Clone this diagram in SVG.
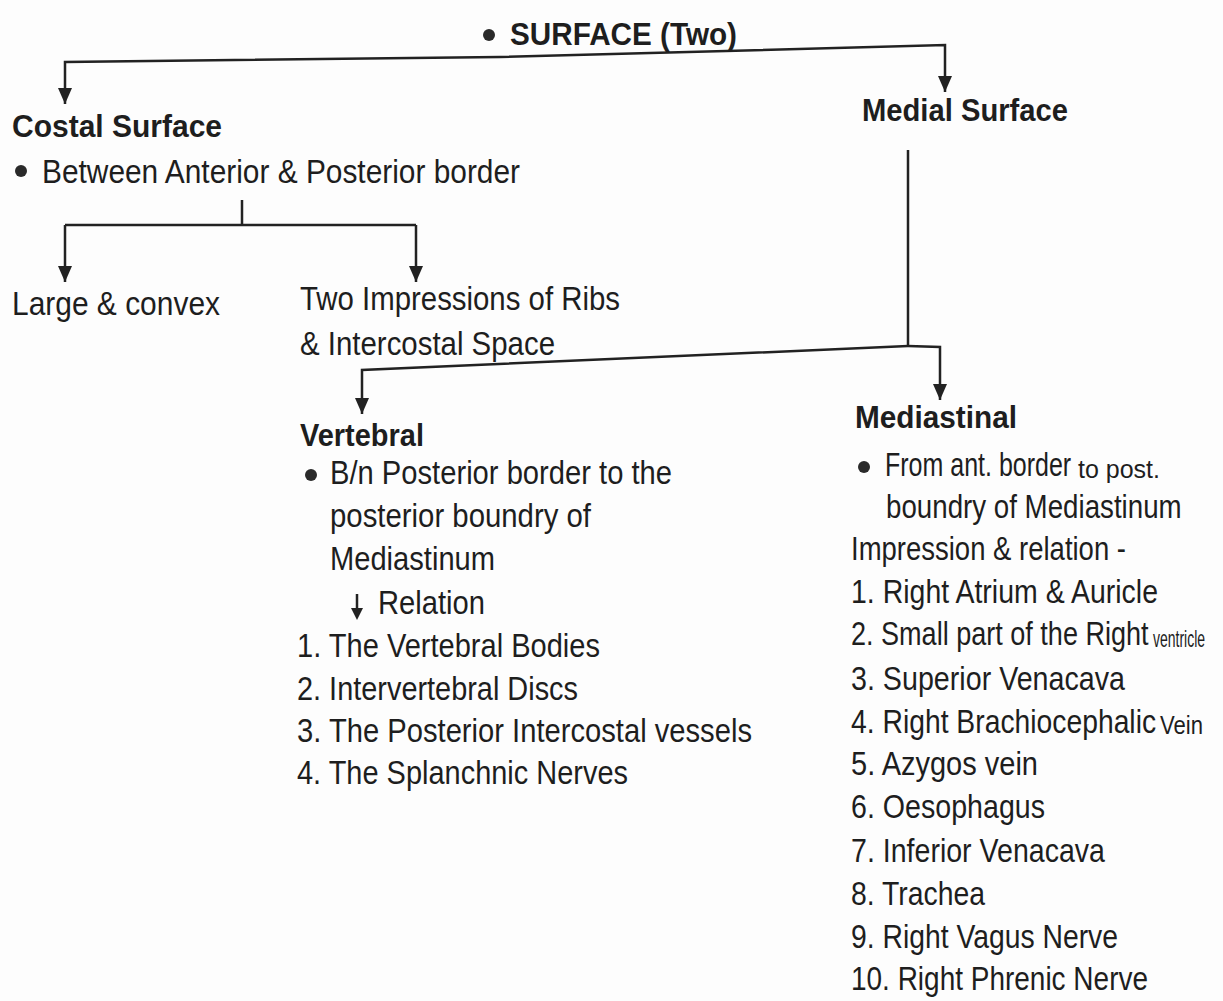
<svg xmlns="http://www.w3.org/2000/svg" width="1223" height="1001" viewBox="0 0 1223 1001">
<defs>
<style>
text{font-family:"Liberation Sans",Arial,sans-serif;font-size:33px;fill:#1e1e1e;}
.b{font-weight:bold;font-size:32px;}
.s{font-size:25px;}
.xs{font-size:23px;}
.ln{fill:none;stroke:#222;stroke-width:2.5;}
.dot{fill:#2a2a2a;}
</style>
<marker id="ah" markerUnits="userSpaceOnUse" markerWidth="14" markerHeight="16" viewBox="0 0 14 16" refX="7" refY="16" orient="0">
<path d="M0,0 L14,0 L7,16 Z" fill="#222"/>
</marker>
</defs>
<rect width="1223" height="1001" fill="#fdfdfd"/>
<g id="connectors">
<path class="ln" d="M500,57 L65,62 L65,104" marker-end="url(#ah)"/>
<path class="ln" d="M500,57 L945,45 L945,92" marker-end="url(#ah)"/>
<path class="ln" d="M242,200 L242,225"/>
<path class="ln" d="M65,225 L416,225"/>
<path class="ln" d="M65,225 L65,282" marker-end="url(#ah)"/>
<path class="ln" d="M416,225 L416,282" marker-end="url(#ah)"/>
<path class="ln" d="M908,150 L908,346"/>
<path class="ln" d="M908,346 L362,370 L362,414" marker-end="url(#ah)"/>
<path class="ln" d="M908,346 L940,347 L940,400" marker-end="url(#ah)"/>
</g>
<g id="surface">
<circle class="dot" cx="489" cy="35" r="6"/>
<text class="b" x="510" y="45" textLength="227" lengthAdjust="spacingAndGlyphs">SURFACE (Two)</text>
</g>
<g id="costal">
<text class="b" x="12" y="137" textLength="210" lengthAdjust="spacingAndGlyphs">Costal Surface</text>
<circle class="dot" cx="21" cy="171" r="6"/>
<text x="42" y="183" textLength="478" lengthAdjust="spacingAndGlyphs">Between Anterior &amp; Posterior border</text>
</g>
<g id="large">
<text x="12" y="315" textLength="208" lengthAdjust="spacingAndGlyphs">Large &amp; convex</text>
</g>
<g id="impressions">
<text x="300" y="310" textLength="320" lengthAdjust="spacingAndGlyphs">Two Impressions of Ribs</text>
<text x="300" y="355" textLength="255" lengthAdjust="spacingAndGlyphs">&amp; Intercostal Space</text>
</g>
<g id="medial">
<text class="b" x="862" y="121" textLength="206" lengthAdjust="spacingAndGlyphs">Medial Surface</text>
</g>
<g id="vertebral">
<text class="b" x="300" y="446" textLength="124" lengthAdjust="spacingAndGlyphs">Vertebral</text>
<circle class="dot" cx="311" cy="475" r="6"/>
<text x="330" y="484" textLength="342" lengthAdjust="spacingAndGlyphs">B/n Posterior border to the</text>
<text x="330" y="527" textLength="261" lengthAdjust="spacingAndGlyphs">posterior boundry of</text>
<text x="330" y="570" textLength="165" lengthAdjust="spacingAndGlyphs">Mediastinum</text>
<path class="ln" d="M357,594 L357,610" stroke-width="2"/>
<path d="M351,608 L363,608 L357,620 Z" fill="#222"/>
<text x="378" y="614" textLength="107" lengthAdjust="spacingAndGlyphs">Relation</text>
<text x="297" y="657" textLength="303" lengthAdjust="spacingAndGlyphs">1. The Vertebral Bodies</text>
<text x="297" y="700" textLength="281" lengthAdjust="spacingAndGlyphs">2. Intervertebral Discs</text>
<text x="297" y="742" textLength="455" lengthAdjust="spacingAndGlyphs">3. The Posterior Intercostal vessels</text>
<text x="297" y="784" textLength="331" lengthAdjust="spacingAndGlyphs">4. The Splanchnic Nerves</text>
</g>
<g id="mediastinal">
<text class="b" x="855" y="428" textLength="162" lengthAdjust="spacingAndGlyphs">Mediastinal</text>
<circle class="dot" cx="864" cy="467" r="6"/>
<text transform="translate(885,476) scale(0.76,1)" x="0" y="0" textLength="245" lengthAdjust="spacingAndGlyphs">From ant. border</text>
<text class="s" x="1078" y="478" textLength="82" lengthAdjust="spacingAndGlyphs">to post.</text>
<text transform="translate(886,518) scale(0.84,1)" x="0" y="0" textLength="352" lengthAdjust="spacingAndGlyphs">boundry of Mediastinum</text>
<text x="851" y="560" textLength="275" lengthAdjust="spacingAndGlyphs">Impression &amp; relation -</text>
<text x="851" y="603" textLength="307" lengthAdjust="spacingAndGlyphs">1. Right Atrium &amp; Auricle</text>
<text transform="translate(851,645) scale(0.8,1)" x="0" y="0" textLength="372" lengthAdjust="spacingAndGlyphs">2. Small part of the Right</text>
<text class="xs" transform="translate(1153,647) scale(0.62,1)" x="0" y="0" textLength="84" lengthAdjust="spacingAndGlyphs">ventricle</text>
<text x="851" y="690" textLength="274" lengthAdjust="spacingAndGlyphs">3. Superior Venacava</text>
<text transform="translate(851,733) scale(0.857,1)" x="0" y="0" textLength="356" lengthAdjust="spacingAndGlyphs">4. Right Brachiocephalic</text>
<text class="s" transform="translate(1160,734) scale(0.86,1)" x="0" y="0" textLength="50" lengthAdjust="spacingAndGlyphs">Vein</text>
<text x="851" y="775" textLength="187" lengthAdjust="spacingAndGlyphs">5. Azygos vein</text>
<text x="851" y="818" textLength="194" lengthAdjust="spacingAndGlyphs">6. Oesophagus</text>
<text x="851" y="862" textLength="254" lengthAdjust="spacingAndGlyphs">7. Inferior Venacava</text>
<text x="851" y="905" textLength="134" lengthAdjust="spacingAndGlyphs">8. Trachea</text>
<text x="851" y="948" textLength="267" lengthAdjust="spacingAndGlyphs">9. Right Vagus Nerve</text>
<text x="851" y="990" textLength="297" lengthAdjust="spacingAndGlyphs">10. Right Phrenic Nerve</text>
</g>
</svg>
